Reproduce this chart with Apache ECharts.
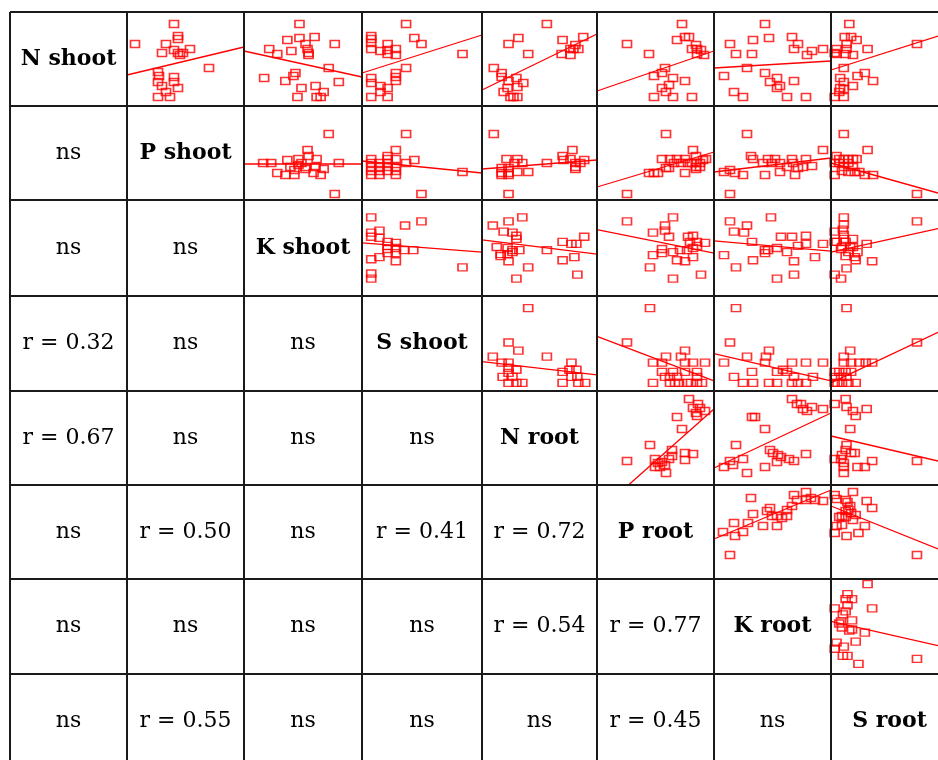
<!DOCTYPE html>
<html>
<head>
<meta charset="utf-8">
<script src="https://cdn.jsdelivr.net/npm/echarts@6/dist/echarts.min.js"></script>
<style>html,body{margin:0;padding:0;background:#fff}#c{width:938px;height:760px}</style>
</head>
<body>
<div id="c"></div>
<script>
// ---------- DATA ----------
const varNames = ['N shoot','P shoot','K shoot','S shoot','N root','P root','K root','S root'];
const corrLabels = [
  [],
  ['ns'],
  ['ns','ns'],
  ['r = 0.32','ns','ns'],
  ['r = 0.67','ns','ns','ns'],
  ['ns','r = 0.50','ns','r = 0.41','r = 0.72'],
  ['ns','ns','ns','ns','r = 0.54','r = 0.77'],
  ['ns','r = 0.55','ns','ns','ns','r = 0.45','ns']
];
// scatter points per panel [x, y] (panel-scaled units) and fitted line [y at x-min, y at x-max]
const p1_2 = [[47,82],[51,70],[51,67],[8,62],[39,62],[35,53],[47,56],[51,53],[56,53],[63,57],[53,51],[82,38],[31,34],[32,30],[47,29],[47,24],[31,24],[35,20],[51,18],[39,14],[31,9],[43,9]];
const t1_2 = [31,59];
const p1_3 = [[55,82],[43,66],[55,68],[70,69],[90,62],[61,62],[63,57],[64,53],[64,51],[47,55],[25,57],[33,52],[84,38],[20,28],[51,33],[49,30],[41,25],[94,24],[57,18],[71,20],[79,14],[53,9],[72,9],[76,9]];
const t1_3 = [55,29];
const p1_4 = [[43,82],[9,70],[9,67],[9,63],[51,68],[58,62],[9,57],[18,55],[25,62],[25,56],[33,57],[25,52],[33,51],[98,52],[43,38],[33,33],[33,29],[33,25],[9,28],[9,23],[18,20],[25,18],[18,14],[9,9],[25,9]];
const t1_4 = [33,71];
const p1_5 = [[66,82],[37,68],[27,62],[47,52],[82,66],[103,69],[95,61],[90,57],[93,57],[98,57],[81,52],[90,51],[12,38],[20,33],[20,29],[27,25],[35,28],[42,23],[26,18],[22,14],[36,19],[29,9],[32,9],[36,9]];
const t1_5 = [16,72];
const p1_6 = [[85,82],[30,62],[52,52],[80,66],[88,69],[92,69],[99,61],[95,57],[100,57],[104,56],[100,52],[107,51],[68,38],[65,33],[57,30],[76,28],[88,25],[72,21],[65,18],[69,14],[57,9],[76,9],[95,9]];
const t1_6 = [15,55];
const p1_7 = [[51,82],[16,62],[39,66],[55,68],[78,69],[84,62],[22,52],[38,52],[80,57],[98,55],[93,51],[109,57],[33,38],[10,30],[51,33],[63,28],[56,24],[80,25],[66,20],[63,18],[20,14],[29,9],[73,9],[92,9]];
const t1_7 = [38,45];
const p1_8 = [[20,82],[15,69],[22,69],[28,66],[17,62],[17,57],[6,57],[4,53],[6,52],[16,52],[24,51],[40,57],[94,62],[14,38],[10,28],[14,24],[10,18],[14,17],[9,14],[14,9],[4,9],[24,20],[29,30],[37,33],[46,25]];
const t1_8 = [36,70];
const p2_3 = [[84,66],[63,50],[19,37],[27,37],[43,40],[54,41],[64,44],[72,41],[94,37],[46,33],[54,35],[61,33],[50,30],[61,31],[71,33],[79,31],[33,27],[41,25],[50,25],[69,27],[76,25],[90,6],[57,37]];
const t2_3 = [36,36];
const p2_4 = [[43,66],[33,50],[9,41],[9,37],[9,33],[9,29],[9,25],[17,37],[17,33],[17,29],[17,25],[25,44],[25,41],[25,37],[25,33],[25,29],[33,41],[33,33],[33,29],[33,25],[43,37],[51,40],[58,6],[98,28]];
const t2_4 = [39,27];
const p2_5 = [[12,66],[27,6],[25,41],[36,41],[33,37],[41,37],[20,32],[20,27],[20,25],[27,32],[27,27],[27,25],[36,28],[47,28],[66,37],[82,44],[92,50],[90,41],[95,37],[95,33],[95,31],[100,37],[104,40],[83,40]];
const t2_5 = [31,40];
const p2_6 = [[69,66],[30,6],[96,50],[65,41],[73,41],[80,41],[88,41],[99,44],[109,41],[52,27],[57,27],[61,27],[69,32],[72,32],[77,37],[84,37],[88,27],[91,37],[95,37],[99,37],[103,37],[106,40],[99,33],[103,33],[99,31]];
const t2_6 = [13,48];
const p2_7 = [[33,66],[16,6],[109,50],[10,28],[16,30],[21,27],[29,25],[51,25],[66,28],[81,25],[37,44],[39,41],[54,41],[61,41],[78,41],[92,41],[49,37],[58,37],[66,37],[73,33],[79,37],[84,32],[89,33],[98,34]];
const t2_7 = [28,42];
const p2_8 = [[14,66],[40,50],[6,44],[4,37],[9,41],[14,41],[19,41],[24,41],[28,41],[9,37],[14,33],[19,37],[24,33],[12,29],[19,28],[26,28],[4,25],[31,28],[37,25],[46,25],[94,6]];
const t2_8 = [37,7];
const p3_4 = [[9,77],[17,64],[9,62],[9,58],[58,73],[42,69],[17,57],[25,53],[25,49],[25,46],[25,42],[33,52],[33,47],[33,42],[33,34],[41,45],[50,45],[9,36],[17,38],[98,28],[9,22],[9,17]];
const t3_4 = [52,43];
const p3_5 = [[41,77],[27,73],[11,69],[22,63],[31,62],[35,59],[35,56],[15,48],[26,47],[31,45],[38,45],[19,41],[19,39],[26,41],[31,43],[27,34],[47,28],[35,17],[66,45],[82,53],[91,51],[96,51],[104,58],[82,35],[94,38],[97,21]];
const t3_5 = [55,41];
const p3_6 = [[30,73],[76,77],[68,69],[68,64],[56,62],[72,58],[91,58],[96,59],[93,53],[100,53],[108,52],[100,49],[65,46],[65,42],[76,43],[83,45],[90,45],[96,47],[56,40],[80,35],[88,34],[96,38],[53,28],[76,17],[104,21]];
const t3_6 = [65,42];
const p3_7 = [[16,73],[57,77],[20,63],[30,62],[33,69],[38,53],[10,40],[22,28],[39,35],[51,45],[54,45],[51,42],[63,47],[73,43],[67,58],[78,58],[92,59],[92,51],[84,49],[109,51],[80,34],[101,38],[80,21],[63,17]];
const t3_7 = [54,44];
const p3_8 = [[14,77],[14,70],[13,65],[14,60],[14,56],[4,63],[6,53],[4,53],[16,53],[24,56],[24,48],[19,43],[29,43],[16,39],[26,38],[11,46],[12,48],[21,48],[39,51],[45,34],[27,35],[17,27],[4,21],[11,17],[94,73]];
const t3_8 = [43,66];
const p4_5 = [[47,82],[27,48],[37,40],[11,34],[66,34],[20,28],[27,28],[27,23],[27,18],[35,21],[21,14],[31,14],[27,8],[35,8],[41,8],[91,28],[89,21],[82,19],[96,21],[91,14],[97,14],[82,8],[98,8],[105,8]];
const t4_5 = [29,16];
const p4_6 = [[53,82],[30,48],[69,34],[88,40],[84,34],[96,28],[108,28],[56,28],[65,28],[65,19],[76,19],[68,14],[73,14],[80,14],[88,28],[88,19],[100,19],[100,14],[56,8],[73,8],[78,8],[82,8],[90,8],[94,8],[100,8],[105,8]];
const t4_6 = [54,10];
const p4_7 = [[22,82],[16,48],[33,34],[52,34],[55,40],[10,28],[38,19],[63,19],[73,19],[78,28],[92,28],[109,28],[20,14],[29,8],[39,8],[55,8],[63,8],[78,8],[84,8],[92,8],[99,14],[80,14],[69,21],[51,28]];
const t4_7 = [37,10];
const p4_8 = [[17,82],[14,34],[21,40],[14,28],[22,28],[31,28],[38,28],[45,28],[4,19],[9,19],[16,19],[22,19],[4,14],[11,14],[17,14],[7,8],[12,8],[19,8],[27,8],[4,8],[94,48]];
const t4_8 = [8,58];
const p5_6 = [[92,86],[101,81],[103,77],[96,77],[108,74],[99,72],[100,69],[80,68],[85,56],[53,40],[30,24],[75,35],[75,29],[72,26],[88,32],[96,31],[88,25],[58,26],[65,23],[68,20],[58,18],[69,12],[63,18],[61,22]];
const t5_6 = [-28,76];
const p5_7 = [[78,86],[83,81],[87,81],[89,76],[98,78],[93,74],[109,76],[38,68],[41,68],[51,56],[22,40],[56,35],[59,32],[64,30],[67,28],[75,26],[80,24],[92,31],[63,23],[51,18],[33,12],[29,26],[16,24],[19,20],[10,18]];
const t5_7 = [17,72];
const p5_8 = [[4,81],[16,86],[17,78],[24,74],[27,69],[39,76],[21,56],[17,40],[16,35],[22,32],[12,30],[4,26],[11,26],[14,22],[14,18],[14,12],[29,18],[37,18],[45,24],[26,32],[94,24]];
const t5_8 = [49,24];
const p6_7 = [[37,81],[80,84],[92,87],[83,79],[92,79],[97,81],[109,78],[101,79],[78,73],[73,69],[56,71],[53,68],[63,63],[73,63],[39,65],[49,53],[63,53],[34,56],[29,47],[20,56],[21,43],[9,47],[16,24],[58,63],[68,61]];
const t6_7 = [40,89];
const p6_8 = [[4,84],[24,87],[16,79],[18,77],[6,80],[39,78],[45,71],[21,73],[22,66],[27,64],[12,63],[9,62],[16,62],[24,59],[12,54],[6,53],[37,53],[30,46],[17,43],[4,46],[94,24],[16,68],[19,69]];
const t6_8 = [73,30];
const p7_8 = [[40,89],[18,79],[23,74],[16,74],[18,68],[16,62],[4,65],[13,59],[45,65],[23,53],[11,52],[9,50],[12,46],[20,43],[23,44],[37,41],[27,32],[6,31],[4,25],[14,27],[13,18],[18,18],[30,10],[94,15]];
const t7_8 = [52,28];

const panels = [
  [0,1,p1_2,t1_2],[0,2,p1_3,t1_3],[0,3,p1_4,t1_4],[0,4,p1_5,t1_5],[0,5,p1_6,t1_6],[0,6,p1_7,t1_7],[0,7,p1_8,t1_8],
  [1,2,p2_3,t2_3],[1,3,p2_4,t2_4],[1,4,p2_5,t2_5],[1,5,p2_6,t2_6],[1,6,p2_7,t2_7],[1,7,p2_8,t2_8],
  [2,3,p3_4,t3_4],[2,4,p3_5,t3_5],[2,5,p3_6,t3_6],[2,6,p3_7,t3_7],[2,7,p3_8,t3_8],
  [3,4,p4_5,t4_5],[3,5,p4_6,t4_6],[3,6,p4_7,t4_7],[3,7,p4_8,t4_8],
  [4,5,p5_6,t5_6],[4,6,p5_7,t5_7],[4,7,p5_8,t5_8],
  [5,6,p6_7,t6_7],[5,7,p6_8,t6_8],
  [6,7,p7_8,t7_8]
];

// ---------- LAYOUT ----------
const colEdges = [10,127,244,362,482,597,714,831,948];
const rowEdges = [12,106,200,296,391,485,579,674,768];
const X_MAX = 117, Y_MAX = 94;
const RED = '#ff0000';

const grid = [], xAxis = [], yAxis = [], series = [];
panels.forEach(([r,c,pts,fit], k) => {
  grid.push({left: colEdges[c], top: rowEdges[r],
             width: colEdges[c+1]-colEdges[c], height: rowEdges[r+1]-rowEdges[r]});
  xAxis.push({gridIndex:k, type:'value', min:0, max:X_MAX, show:false});
  yAxis.push({gridIndex:k, type:'value', min:0, max:Y_MAX, show:false});
  series.push({type:'scatter', xAxisIndex:k, yAxisIndex:k, data:pts, symbol:'rect', symbolSize:[9,7],
               itemStyle:{color:'rgba(0,0,0,0)', borderColor:RED, borderWidth:1.5}, silent:true, animation:false, z:3});
  series.push({type:'line', xAxisIndex:k, yAxisIndex:k, data:[[0,fit[0]],[X_MAX,fit[1]]], showSymbol:false,
               lineStyle:{color:RED, width:1.3}, clip:true, silent:true, animation:false, z:2});
});

const graphic = [];
const lineStyle = {stroke:'#1a1a1a', lineWidth:2};
for (let i = 0; i < 8; i++) {
  graphic.push({type:'line', shape:{x1:colEdges[i], y1:rowEdges[0], x2:colEdges[i], y2:760}, style:lineStyle, z:10});
  graphic.push({type:'line', shape:{x1:colEdges[0], y1:rowEdges[i], x2:938, y2:rowEdges[i]}, style:lineStyle, z:10});
}
function cellText(r, c, text, bold) {
  const cx = (colEdges[c]+colEdges[c+1])/2;
  const cy = (rowEdges[r]+rowEdges[r+1])/2;
  graphic.push({type:'text', x:cx, y:cy, z:11,
    style:{text:text, fill:'#000', align:'center', verticalAlign:'middle', textAlign:'center', textVerticalAlign:'middle',
           font:(bold?'bold 22px':'normal 22px')+' "DejaVu Serif", serif'}});
}
varNames.forEach((n,i) => cellText(i,i,n,true));
corrLabels.forEach((row,r) => row.forEach((t,c) => cellText(r,c,t,false)));

const chart = echarts.init(document.getElementById('c'));
chart.setOption({backgroundColor:'#fff', animation:false, grid, xAxis, yAxis, series, graphic});
</script>
</body>
</html>
